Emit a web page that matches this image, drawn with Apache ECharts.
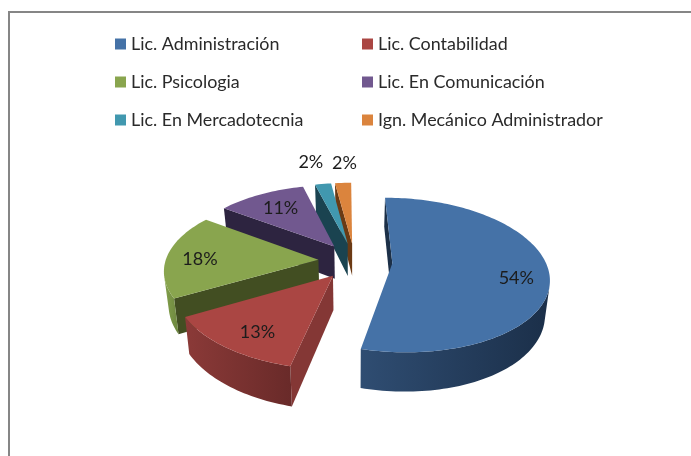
<!DOCTYPE html>
<html>
<head>
<meta charset="utf-8">
<title>Pie</title>
<style>
html, body { margin: 0; padding: 0; background: #fff; }
#main { width: 691px; height: 456px; }
</style>
<script src="https://cdn.jsdelivr.net/npm/echarts@6/dist/echarts.min.js"></script>
</head>
<body>
<div id="main"></div>
<script>
// data
var categories = ['Lic. Administración', 'Lic. Contabilidad', 'Lic. Psicologia', 'Lic. En Comunicación', 'Lic. En Mercadotecnia', 'Ign. Mecánico Administrador'];
var values = [54, 13, 18, 11, 2, 2];

// colours: top face, radial wall, outer wall left, outer wall right
var topColors = ['#4572a7', '#aa4643', '#89a54e', '#71588f', '#4198af', '#db843d'];
var radialColors = ['#1c3048', '#843735', '#424e22', '#2d2440', '#1a4350', '#6b3a14'];
var outerFrom = ['#2f4d72', '#8b3a38', '#82a04b', '#5a4672', '#2f6f80', '#a5622c'];
var outerTo = ['#1b2f49', '#692a29', '#6d863f', '#4a3a5e', '#25596a', '#8a5224'];

// layout of the tilted pie
var cx = 353, cy = 261, radius = 153, explode = 37;
var tilt = 0.489, persp = 0.153 / 155, skew = 1.0e-4;
var legendLeft = [115, 362], legendTop = [35, 73, 111];
var labelAt = [[0.8, -1, 7], [0.78, 6, 2], [0.75, -5, 3], [0.7, 0, -1], [1.35, -6, -4], [1.35, 3, -2]];

var total = values.reduce(function (a, b) { return a + b; }, 0);

function project(px, py, low) {
    var w = 1 - persp * py;
    var x = cx + px / w + skew * (py + radius) * (py + radius);
    var y = cy + py * tilt / w;
    if (low) {
        x = cx + (x - cx) * 0.975;
        y = y + 0.0667 * (y + 237);
    }
    return [x, y];
}

function area(p) {
    var s = 0;
    for (var i = 0; i < p.length; i++) {
        var q = p[(i + 1) % p.length];
        s += p[i][0] * q[1] - q[0] * p[i][1];
    }
    return s;
}

function sliceStart(idx) {
    var s = 0;
    for (var i = 0; i < idx; i++) s += values[i];
    return s / total * Math.PI * 2;
}

function makeRender(idx) {
    return function (params, api) {
        var a0 = sliceStart(idx);
        var a1 = a0 + api.value(0) / total * Math.PI * 2;
        var mid = (a0 + a1) / 2;
        var ox = Math.sin(mid) * explode, oy = -Math.cos(mid) * explode;
        var pt = function (ang, r, low) {
            return project(ox + Math.sin(ang) * r, oy - Math.cos(ang) * r, low);
        };
        var steps = Math.max(4, Math.round((a1 - a0) * 40));
        var children = [];
        var topFace = [pt(0, 0, false)];
        var arc = [];
        for (var i = 0; i <= steps; i++) {
            arc.push(a0 + (a1 - a0) * i / steps);
            topFace.push(pt(arc[i], radius, false));
        }
        // radial walls, only when they face the viewer
        [[pt(0, 0, false), pt(a0, radius, false), pt(a0, radius, true), pt(0, 0, true)],
         [pt(a1, radius, false), pt(0, 0, false), pt(0, 0, true), pt(a1, radius, true)]].forEach(function (q) {
            if (area(q) < 0) {
                children.push({ type: 'polygon', shape: { points: q }, style: { fill: radialColors[idx] } });
            }
        });
        // outer wall
        var upper = [], lower = [];
        for (var j = 0; j < steps; j++) {
            var q = [pt(arc[j], radius, false), pt(arc[j + 1], radius, false), pt(arc[j + 1], radius, true), pt(arc[j], radius, true)];
            if (area(q) < 0) {
                if (!upper.length) { upper.push(q[0]); lower.push(q[3]); }
                upper.push(q[1]);
                lower.push(q[2]);
            }
        }
        if (upper.length) {
            children.push({
                type: 'polygon',
                shape: { points: upper.concat(lower.reverse()) },
                style: {
                    fill: new echarts.graphic.LinearGradient(0, 0, 1, 0, [
                        { offset: 0, color: outerFrom[idx] },
                        { offset: 1, color: outerTo[idx] }
                    ]),
                    lineWidth: 0
                }
            });
        }
        children.push({ type: 'polygon', shape: { points: topFace }, style: { fill: topColors[idx] } });
        var lab = labelAt[idx];
        var lp = pt(mid, radius * lab[0], false);
        children.push({
            type: 'text',
            x: lp[0] + lab[1],
            y: lp[1] + lab[2],
            z2: 10,
            style: {
                text: api.value(0) + '%',
                fontFamily: 'Lato',
                fontSize: 18,
                fill: '#1c1c1c',
                align: 'center',
                verticalAlign: 'middle'
            }
        });
        return { type: 'group', children: children };
    };
}

// back slices go first so the front ones cover them
var drawOrder = [5, 4, 3, 2, 1, 0];
var series = [];
var legends = [];
categories.forEach(function (name, i) {
    series.push({
        name: name,
        type: 'custom',
        coordinateSystem: 'none',
        z: 2 + drawOrder.indexOf(i),
        silent: true,
        itemStyle: { color: topColors[i] },
        renderItem: makeRender(i),
        data: [[values[i]]]
    });
    legends.push({
        left: legendLeft[i % 2],
        top: legendTop[Math.floor(i / 2)],
        data: [name],
        icon: 'rect',
        itemWidth: 11,
        itemHeight: 11,
        itemGap: 5,
        padding: 0,
        selectedMode: false,
        textStyle: { fontFamily: 'Lato', fontSize: 17.9, color: '#2a2a2a', padding: [0, 0, 0, 0] }
    });
});

var dom = document.getElementById('main');
var myChart = echarts.init(dom);
var option = {
    animation: false,
    backgroundColor: '#fff',
    legend: legends,
    graphic: [
        { type: 'line', shape: { x1: 9, y1: 12, x2: 691, y2: 12 }, style: { stroke: '#868686', lineWidth: 2 } },
        { type: 'line', shape: { x1: 9, y1: 11, x2: 9, y2: 456 }, style: { stroke: '#868686', lineWidth: 2 } }
    ],
    series: series
};
myChart.setOption(option, true);
</script>
</body>
</html>
